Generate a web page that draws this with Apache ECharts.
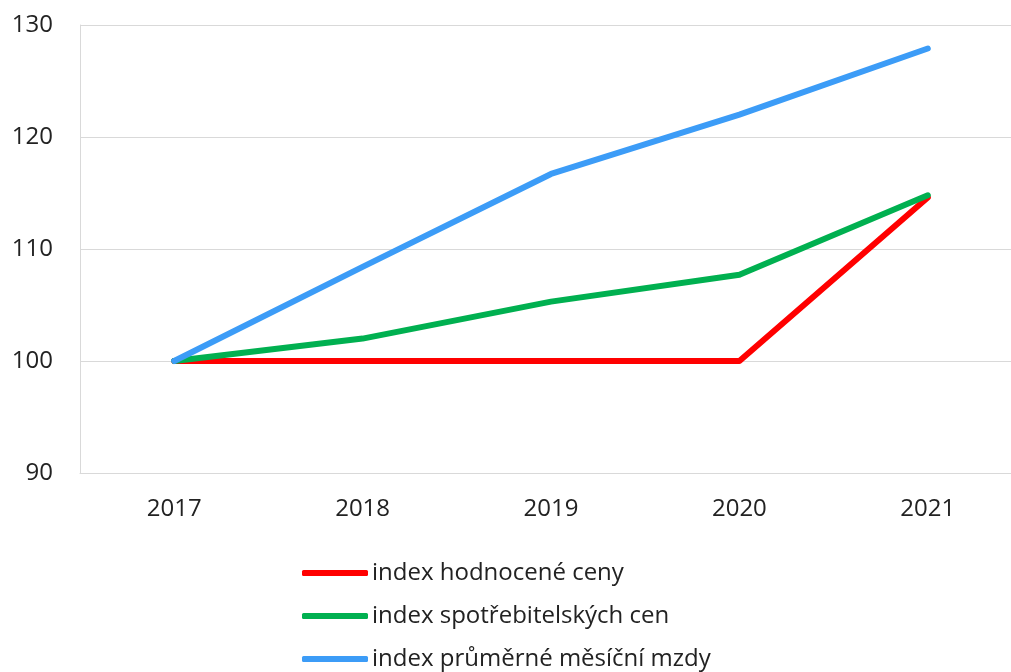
<!DOCTYPE html>
<html>
<head>
<meta charset="utf-8">
<title></title>
<script src="https://cdn.jsdelivr.net/npm/echarts@6/dist/echarts.min.js"></script>
<style>
  html, body { margin: 0; padding: 0; background: #fff; overflow: hidden; }
  /* plot area in the original runs past the right edge, so the canvas is a bit wider than the window */
  #container { width: 1022px; height: 672px; }
</style>
</head>
<body>
<div id="container"></div>
<script>
    // data
    var years = ['2017', '2018', '2019', '2020', '2021'];
    var hodnocenaCena = [100, 100, 100, 100, 114.6];
    var spotrebitelskeCeny = [100, 102.0, 105.3, 107.7, 114.8];
    var prumernaMzda = [100, 108.4, 116.7, 122.0, 127.9];
    var yTicks = [90, 100, 110, 120, 130];

    var fontName = 'Open Sans';
    var dom = document.getElementById('container');
    var myChart = echarts.init(dom, null, { renderer: 'canvas' });

    function line(name, data, color) {
        return {
            name: name,
            type: 'line',
            data: data,
            symbol: 'none',
            animation: false,
            lineStyle: { color: color, width: 6, cap: 'round', join: 'round' },
            itemStyle: { color: color }
        };
    }

    var option = {
        animation: false,
        grid: { left: 80, top: 25, right: 0, bottom: 199 },
        legend: {
            orient: 'vertical',
            left: 302,
            top: 561,
            height: 111,
            padding: 0,
            itemWidth: 66,
            itemHeight: 6,
            itemGap: 19,
            icon: 'roundRect',
            textStyle: { fontFamily: fontName, fontSize: 24, color: '#222', padding: [0, 0, 0, -1] }
        },
        xAxis: {
            type: 'category',
            data: years,
            boundaryGap: true,
            axisLine: { lineStyle: { color: '#d9d9d9', width: 1 } },
            axisTick: { show: false },
            axisLabel: { fontFamily: fontName, fontSize: 24, color: '#222', margin: 24 }
        },
        yAxis: {
            type: 'value',
            min: yTicks[0],
            max: yTicks[yTicks.length - 1],
            interval: 10,
            axisLine: { show: true, lineStyle: { color: '#d9d9d9', width: 1 } },
            axisTick: { show: false },
            splitLine: { lineStyle: { color: '#d9d9d9', width: 1 } },
            axisLabel: { fontFamily: fontName, fontSize: 24, color: '#222', margin: 27 }
        },
        series: [
            line('index hodnocené ceny', hodnocenaCena, '#ff0000'),
            line('index spotřebitelských cen', spotrebitelskeCeny, '#00b050'),
            line('index průměrné měsíční mzdy', prumernaMzda, '#3c9cf7')
        ]
    };
    myChart.setOption(option);
</script>
</body>
</html>
